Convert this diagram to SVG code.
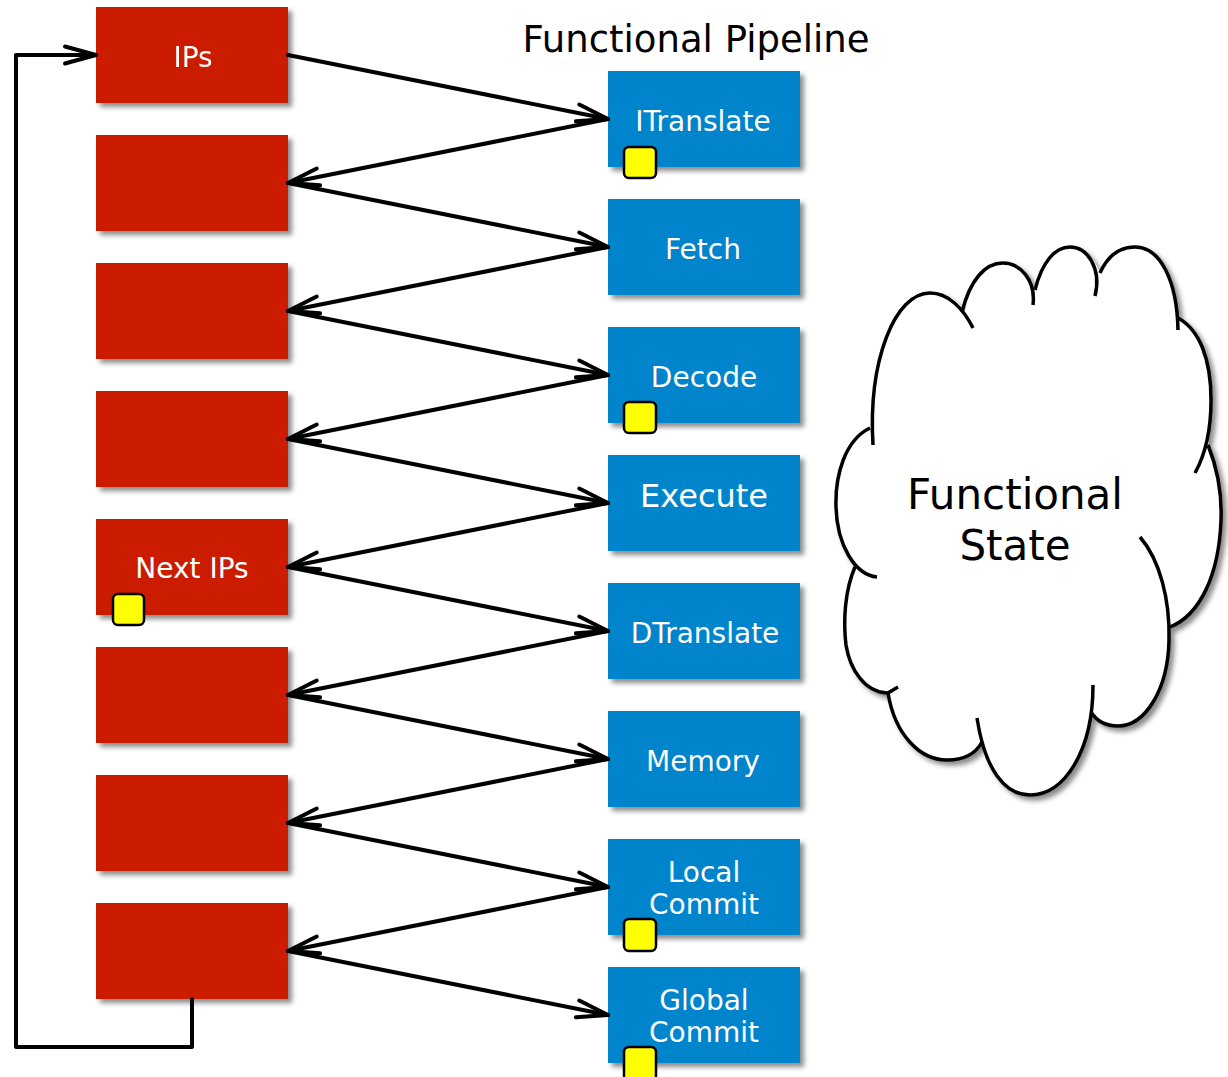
<svg xmlns="http://www.w3.org/2000/svg" width="1228" height="1077" viewBox="0 0 1228 1077">
<style>
  .red{fill:#CC1E00}
  .blue{fill:#0084CB}
  .lbl{font-family:"DejaVu Sans","Verdana",sans-serif;fill:#fff;text-anchor:middle;font-size:28px}
  .big{font-size:32px}
  .ttl{font-family:"DejaVu Sans","Verdana",sans-serif;fill:#000;text-anchor:middle}
  .yel{fill:#FFFF00;stroke:#000;stroke-width:2.5}
  .conn{fill:none;stroke:#000;stroke-width:4;stroke-linecap:round;stroke-linejoin:round;marker-end:url(#ah)}
  .lobe{fill:none;stroke:#000;stroke-width:3.5;stroke-linecap:butt}
</style>
<defs>
  <filter id="sh" x="-10%" y="-10%" width="130%" height="130%">
    <feDropShadow dx="4" dy="4" stdDeviation="2.5" flood-color="#000" flood-opacity="0.45"/>
  </filter>
  <marker id="ah" markerUnits="userSpaceOnUse" markerWidth="44" markerHeight="28" viewBox="-38 -14 44 28" refX="0" refY="0" orient="auto" overflow="visible">
    <path d="M-31,-8.5 L0,0 L-31,8.5" fill="none" stroke="#000" stroke-width="4" stroke-linecap="round" stroke-linejoin="round"/>
  </marker>
</defs>
<rect width="1228" height="1077" fill="#fff"/>

<text class="ttl" x="696" y="52" font-size="37">Functional Pipeline</text>

<!-- red nodes -->
<g id="ips" filter="url(#sh)"><rect class="red" x="96" y="7" width="192" height="96"/><text class="lbl" x="193" y="67">IPs</text></g>
<g id="r1" filter="url(#sh)"><rect class="red" x="96" y="135" width="192" height="96"/></g>
<g id="r2" filter="url(#sh)"><rect class="red" x="96" y="263" width="192" height="96"/></g>
<g id="r3" filter="url(#sh)"><rect class="red" x="96" y="391" width="192" height="96"/></g>
<g id="nextips"><rect class="red" x="96" y="519" width="192" height="96" filter="url(#sh)"/><text class="lbl" x="192" y="578">Next IPs</text><rect class="yel" x="113" y="594" width="31" height="31" rx="5"/></g>
<g id="r5" filter="url(#sh)"><rect class="red" x="96" y="647" width="192" height="96"/></g>
<g id="r6" filter="url(#sh)"><rect class="red" x="96" y="775" width="192" height="96"/></g>
<g id="r7" filter="url(#sh)"><rect class="red" x="96" y="903" width="192" height="96"/></g>

<!-- blue nodes -->
<g id="itranslate"><rect class="blue" x="608" y="71" width="192" height="96" filter="url(#sh)"/><text class="lbl" x="703" y="131">ITranslate</text><rect class="yel" x="624" y="147" width="32" height="31" rx="5"/></g>
<g id="fetch"><rect class="blue" x="608" y="199" width="192" height="96" filter="url(#sh)"/><text class="lbl" x="703" y="259">Fetch</text></g>
<g id="decode"><rect class="blue" x="608" y="327" width="192" height="96" filter="url(#sh)"/><text class="lbl" x="704" y="387">Decode</text><rect class="yel" x="624" y="402" width="32" height="31" rx="5"/></g>
<g id="execute"><rect class="blue" x="608" y="455" width="192" height="96" filter="url(#sh)"/><text class="lbl big" x="704" y="507">Execute</text></g>
<g id="dtranslate"><rect class="blue" x="608" y="583" width="192" height="96" filter="url(#sh)"/><text class="lbl" x="705" y="643">DTranslate</text></g>
<g id="memory"><rect class="blue" x="608" y="711" width="192" height="96" filter="url(#sh)"/><text class="lbl" x="703" y="771">Memory</text></g>
<g id="localcommit"><rect class="blue" x="608" y="839" width="192" height="96" filter="url(#sh)"/><text class="lbl" x="704" y="882">Local</text><text class="lbl" x="704" y="914">Commit</text><rect class="yel" x="624" y="919" width="32" height="32" rx="5"/></g>
<g id="globalcommit"><rect class="blue" x="608" y="967" width="192" height="96" filter="url(#sh)"/><text class="lbl" x="704" y="1010">Global</text><text class="lbl" x="704" y="1042">Commit</text><rect class="yel" x="624" y="1047" width="32" height="34" rx="5"/></g>

<!-- cloud -->
<g id="cloud">
  <g filter="url(#sh)">
  <path fill="#fff" d="M873,445 C868,360 895,293 930,293 C948,293 958,300 965,312 C972,280 985,263 1003,263 C1018,263 1028,275 1034,290 C1042,262 1055,247 1070,247 C1085,247 1095,260 1100,273 C1108,255 1120,247 1135,247 C1160,247 1175,280 1178,318 C1200,330 1211,360 1211,400 C1211,420 1210,432 1208,445 C1218,470 1222,495 1221,520 C1219,575 1200,615 1170,627 C1168,690 1145,726 1118,726 C1105,726 1096,720 1092,712 C1080,765 1060,795 1030,795 C1005,795 990,770 982,742 C975,755 962,760 947,760 C920,760 895,735 888,693 C870,692 850,670 846,645 C843,620 845,590 855,567 C845,550 836,530 836,507 C835,475 845,440 870,428 Z"/>
  <path class="lobe" d="M873,445 C868,360 895,293 930,293 C948,293 963,308 973,328"/>
  <path class="lobe" d="M962,312 C970,280 985,263 1003,263 C1020,263 1036,280 1033,305"/>
  <path class="lobe" d="M1035,290 C1042,262 1055,247 1070,247 C1087,247 1102,268 1095,296"/>
  <path class="lobe" d="M1100,273 C1108,255 1120,247 1135,247 C1160,247 1177,280 1178,330"/>
  <path class="lobe" d="M1178,318 C1200,330 1211,360 1211,400 C1211,430 1205,455 1195,473"/>
  <path class="lobe" d="M1208,445 C1218,470 1222,495 1221,520 C1219,575 1200,615 1170,627"/>
  <path class="lobe" d="M1140,537 C1160,560 1170,600 1169,640 C1168,690 1145,726 1118,726 C1105,726 1096,720 1091,712"/>
  <path class="lobe" d="M1093,685 C1093,750 1065,795 1030,795 C1005,795 985,770 977,718"/>
  <path class="lobe" d="M982,742 C975,755 962,760 947,760 C920,760 895,735 888,693 L898,687"/>
  <path class="lobe" d="M855,567 C845,590 843,620 846,645 C850,670 865,692 887,693"/>
  <path class="lobe" d="M870,428 C845,440 835,475 836,507 C837,545 855,575 877,577"/>
  </g>
  <text class="ttl" x="1015" y="509" font-size="42">Functional</text>
  <text class="ttl" x="1015" y="560" font-size="42">State</text>
</g>

<!-- connectors -->
<g id="connectors">
  <path class="conn" d="M288,55 L608,119"/>
  <path class="conn" d="M608,119 L288,183"/>
  <path class="conn" d="M288,183 L608,247"/>
  <path class="conn" d="M608,247 L288,311"/>
  <path class="conn" d="M288,311 L608,375"/>
  <path class="conn" d="M608,375 L288,439"/>
  <path class="conn" d="M288,439 L608,503"/>
  <path class="conn" d="M608,503 L288,567"/>
  <path class="conn" d="M288,567 L608,631"/>
  <path class="conn" d="M608,631 L288,695"/>
  <path class="conn" d="M288,695 L608,759"/>
  <path class="conn" d="M608,759 L288,823"/>
  <path class="conn" d="M288,823 L608,887"/>
  <path class="conn" d="M608,887 L288,951"/>
  <path class="conn" d="M288,951 L608,1015"/>
  <path class="conn" d="M192,999 V1047 H16 V55 H96"/>
</g>
</svg>
